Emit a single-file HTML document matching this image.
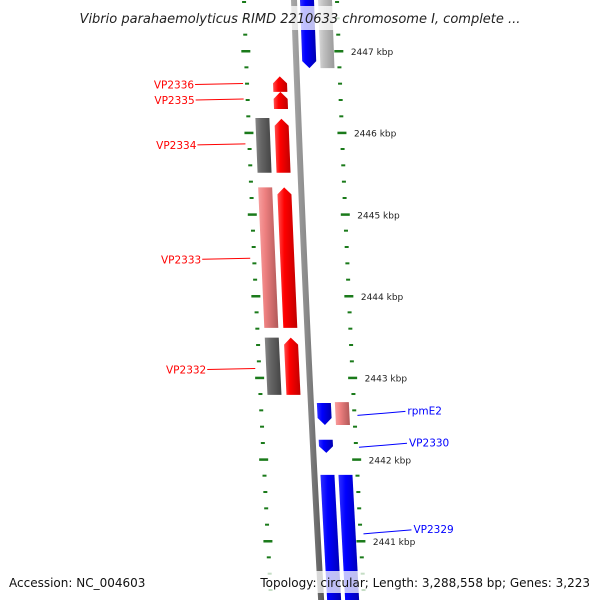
<!DOCTYPE html>
<html><head><meta charset="utf-8"><style>
html,body{margin:0;padding:0;background:#fff;}
svg{display:block;font-family:"DejaVu Sans","Liberation Sans",sans-serif;}
</style></head><body>
<svg id="map" width="600" height="600" viewBox="0 0 600 600" xmlns="http://www.w3.org/2000/svg">
<defs>
<linearGradient id="gRed" x1="0" x2="1"><stop offset="0" stop-color="#ff5050"/><stop offset="0.35" stop-color="#ff0000"/><stop offset="1" stop-color="#c00000"/></linearGradient>
<linearGradient id="gBlue" x1="0" x2="1"><stop offset="0" stop-color="#3030ff"/><stop offset="0.35" stop-color="#0000ff"/><stop offset="1" stop-color="#0000b0"/></linearGradient>
<linearGradient id="gGrey" x1="0" x2="1"><stop offset="0" stop-color="#888"/><stop offset="0.35" stop-color="#666"/><stop offset="1" stop-color="#444"/></linearGradient>
<linearGradient id="gPink" x1="0" x2="1"><stop offset="0" stop-color="#f7a0a0"/><stop offset="0.35" stop-color="#ee8080"/><stop offset="1" stop-color="#b05858"/></linearGradient>
<linearGradient id="gLGrey" x1="0" x2="1"><stop offset="0" stop-color="#ddd"/><stop offset="0.35" stop-color="#c0c0c0"/><stop offset="1" stop-color="#999"/></linearGradient>
<linearGradient id="gBack" x1="0" x2="1"><stop offset="0" stop-color="#aaa"/><stop offset="0.5" stop-color="#888"/><stop offset="1" stop-color="#555"/></linearGradient>
</defs>
<g id="layer"></g>
<rect x="0" y="6" width="600" height="24" fill="#fff" fill-opacity="0.75"/>
<text x="300" y="23" text-anchor="middle" font-size="13" font-style="italic" fill="#222">Vibrio parahaemolyticus RIMD 2210633 chromosome I, complete ...</text>
<rect x="0" y="571" width="600" height="22" fill="#fff" fill-opacity="0.75"/>
<text x="9" y="587" font-size="12" fill="#111">Accession: NC_004603</text>
<text x="590" y="587" text-anchor="end" font-size="12" fill="#111">Topology: circular; Length: 3,288,558 bp; Genes: 3,223</text>
</svg>
<script>
// data (kbp)
const featStart = [2446.50, 2446.29, 2445.51, 2443.61, 2442.79, 2445.51, 2443.61, 2442.79, 2446.79, 2446.79, 2442.42, 2442.42, 2442.08, 2440.20, 2440.20];
const featEnd   = [2446.69, 2446.50, 2446.17, 2445.33, 2443.49, 2446.18, 2445.33, 2443.49, 2447.70, 2447.70, 2442.69, 2442.70, 2442.24, 2441.81, 2441.81];
const featTrack = ['fwd','fwd','fwd','fwd','fwd','fwdOuter','fwdOuter','fwdOuter','rev','revOuter','rev','revOuter','rev','rev','revOuter'];
const featType  = ['red','red','red','red','red','grey','pink','grey','blue','lgrey','blue','pink','blue','blue','blue'];
const labelNames = ['VP2336','VP2335','VP2334','VP2333','VP2332','rpmE2','VP2330','VP2329'];
const labelKbp   = [2446.59, 2446.40, 2445.85, 2444.45, 2443.10, 2442.55, 2442.16, 2441.10];
const labelSide  = ['L','L','L','L','L','R','R','R'];
const majorTicks = [2447, 2446, 2445, 2444, 2443, 2442, 2441];

const NS = 'http://www.w3.org/2000/svg';
const layer = document.getElementById('layer');
function yScale(k){ return 51 + (2447 - k) * 81.67; }
function xBack(y){ return 294 + 0.035*y + 0.000017*y*y; }
const trackOff = {fwd:-17, fwdOuter:-36, rev:13, revOuter:31};
const fills = {red:'url(#gRed)', blue:'url(#gBlue)', grey:'url(#gGrey)', pink:'url(#gPink)', lgrey:'url(#gLGrey)'};
const colors = {L:'#ff0000', R:'#0000ff'};
function mk(tag, attrs){ const e=document.createElementNS(NS,tag); for(const k in attrs) e.setAttribute(k,attrs[k]); layer.appendChild(e); return e; }

// backbone
{
  let pts=[]; for(let y=-5;y<=605;y+=10){ pts.push((xBack(y)-3)+','+y); }
  let pts2=[]; for(let y=605;y>=-5;y-=10){ pts2.push((xBack(y)+3)+','+y); }
  const b = mk('polygon',{points:pts.concat(pts2).join(' '), fill:'url(#gBack)'});
  
  
}
// ticks
for(let k=2447.8; k>=2440.0; k-=0.2){
  const kk=Math.round(k*10)/10;
  const y=yScale(kk); if(y<-5||y>605) continue;
  const major = Math.abs(kk-Math.round(kk))<0.01;
  const len = major?9:4;
  [-50,43].forEach(off=>{
    const x=xBack(y)+off;
    const t=mk('rect',{x:x-len/2, y:y-1, width:len, height:major?2.5:2, fill:'#1a7a1a'});
    
    
  });
}
majorTicks.forEach(k=>{
  const y=yScale(k);
  const t=mk('text',{x:xBack(y)+55, y:y+4, 'font-size':'9', fill:'#222'});
  t.textContent=k+' kbp';
  
  
});
// features
featStart.forEach((s,i)=>{
  const e=featEnd[i];
  const yTop=Math.max(yScale(e),-10), yBot=Math.min(yScale(s),610);
  const off=trackOff[featTrack[i]]; const w=14, h=7;
  const L=y=>xBack(y)+off-w/2, R=y=>xBack(y)+off+w/2;
  let pts;
  const type=featType[i];
  if(type==='red'){
    const ym=yTop+Math.min(h,(yBot-yTop)/2);
    pts=[[L(ym),ym],[(L(yTop)+R(yTop))/2,yTop],[R(ym),ym],[R(yBot),yBot],[L(yBot),yBot]];
  } else if(type==='blue' && yBot<600){
    const ym=yBot-Math.min(h,(yBot-yTop)/2);
    pts=[[L(yTop),yTop],[R(yTop),yTop],[R(ym),ym],[(L(yBot)+R(yBot))/2,yBot],[L(ym),ym]];
  } else {
    pts=[[L(yTop),yTop],[R(yTop),yTop],[R(yBot),yBot],[L(yBot),yBot]];
  }
  const p=mk('polygon',{points:pts.map(q=>q.join(',')).join(' '), fill:fills[type]});
  
  
});
// labels
labelNames.forEach((n,i)=>{
  const y=yScale(labelKbp[i]);
  const side=labelSide[i], c=colors[side];
  if(side==='L'){
    const x2=xBack(y)-54;
    const ln=mk('line',{x1:x2-48,y1:y,x2:x2,y2:y-1,stroke:c,'stroke-width':1});
    
    
    const t=mk('text',{x:x2-49,y:y+4,'text-anchor':'end','font-size':'10.5',fill:c});
    t.textContent=n;
    
    
  } else {
    const x1=xBack(y)+46;
    const ln=mk('line',{x1:x1,y1:y+1,x2:x1+48,y2:y-3,stroke:c,'stroke-width':1});
    
    
    const t=mk('text',{x:x1+50,y:y,'font-size':'10.5',fill:c});
    t.textContent=n;
    
    
  }
});
</script>
</body></html>
